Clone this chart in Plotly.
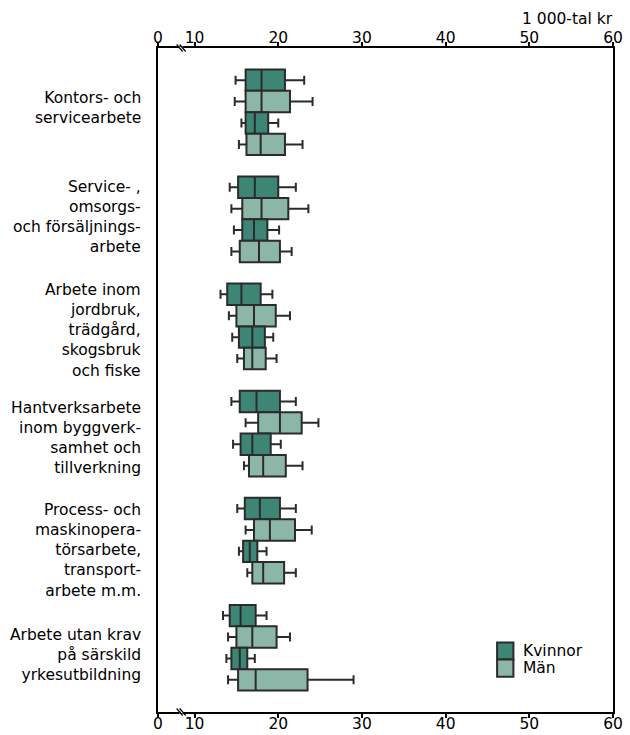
import plotly.graph_objects as go

# ---------------- data (1 000-tal kr) ----------------
categories = [
    "Kontors- och<br>servicearbete",
    "Service- ,<br>omsorgs-<br>och försäljnings-<br>arbete",
    "Arbete inom<br>jordbruk,<br>trädgård,<br>skogsbruk<br>och fiske",
    "Hantverksarbete<br>inom byggverk-<br>samhet och<br>tillverkning",
    "Process- och<br>maskinopera-<br>törsarbete,<br>transport-<br>arbete m.m.",
    "Arbete utan krav<br>på särskild<br>yrkesutbildning",
]

# series 1: Kvinnor (first dark box)
kvinnor1_low = [14.9, 14.2, 13.1, 14.4, 15.1, 13.4]
kvinnor1_q1 = [16.1, 15.2, 13.9, 15.4, 16.0, 14.2]
kvinnor1_med = [18.0, 17.2, 15.6, 17.4, 17.8, 15.5]
kvinnor1_q3 = [20.8, 20.0, 17.9, 20.2, 20.2, 17.3]
kvinnor1_high = [23.1, 22.1, 19.3, 22.1, 22.1, 18.6]

# series 2: Män (first light box)
man1_low = [14.8, 14.4, 14.1, 16.1, 16.1, 14.0]
man1_q1 = [16.1, 15.7, 15.0, 17.6, 17.1, 15.0]
man1_med = [18.0, 18.0, 17.1, 20.2, 19.0, 16.9]
man1_q3 = [21.4, 21.2, 19.7, 22.8, 22.0, 19.8]
man1_high = [24.1, 23.6, 21.4, 24.8, 24.0, 21.4]

# series 3: Kvinnor (second dark box)
kvinnor2_low = [15.6, 14.7, 14.5, 14.6, 15.3, 13.8]
kvinnor2_q1 = [16.1, 15.7, 15.3, 15.5, 15.8, 14.4]
kvinnor2_med = [17.2, 17.1, 16.9, 16.9, 16.6, 15.4]
kvinnor2_q3 = [18.8, 18.7, 18.4, 19.1, 17.5, 16.3]
kvinnor2_high = [20.0, 20.1, 19.4, 20.3, 18.6, 17.2]

# series 4: Män (second light box)
man2_low = [15.3, 14.4, 15.1, 15.9, 16.3, 14.0]
man2_q1 = [16.2, 15.4, 15.9, 16.5, 16.9, 15.2]
man2_med = [17.9, 17.7, 16.9, 18.2, 18.2, 17.3]
man2_q3 = [20.8, 20.2, 18.5, 20.9, 20.7, 23.5]
man2_high = [22.9, 21.6, 19.8, 22.9, 22.1, 29.0]

tick_values = [10, 20, 30, 40, 50, 60]
tick_labels = ["10", "20", "30", "40", "50", "60"]
zero_label = "0"
unit_label = "1 000-tal kr"
legend_names = ["Kvinnor", "Män"]

# ---------------- styling ----------------
DARK = "#3d8675"
LIGHT = "#8cb6a8"
EDGE = "#2b2b2b"
FONT = "DejaVu Sans"
ZERO_POS = 5.63          # axis position where the broken axis shows "0"
BREAK_POS = 8.4
n_groups = len(categories)

series = [
    (kvinnor1_low, kvinnor1_q1, kvinnor1_med, kvinnor1_q3, kvinnor1_high, DARK),
    (man1_low, man1_q1, man1_med, man1_q3, man1_high, LIGHT),
    (kvinnor2_low, kvinnor2_q1, kvinnor2_med, kvinnor2_q3, kvinnor2_high, DARK),
    (man2_low, man2_q1, man2_med, man2_q3, man2_high, LIGHT),
]

fig = go.Figure()
for i, (lo, q1, md, q3, hi, col) in enumerate(series):
    pos = [1.5 + 5 * g + i for g in range(n_groups)]
    fig.add_trace(go.Box(
        y=pos, q1=q1, median=md, q3=q3, lowerfence=lo, upperfence=hi,
        orientation="h", width=1.0, whiskerwidth=0.42,
        fillcolor=col, line=dict(color=EDGE, width=2),
        boxpoints=False, showlegend=False, hoverinfo="skip",
    ))

# invisible trace to activate the top axis
fig.add_trace(go.Scatter(x=[30], y=[1], xaxis="x2", mode="markers",
                         marker=dict(opacity=0), showlegend=False, hoverinfo="skip"))

axis_common = dict(
    range=[ZERO_POS, 60],
    tickvals=[ZERO_POS] + tick_values,
    ticktext=[zero_label] + tick_labels,
    showgrid=False, zeroline=False,
    showline=True, linecolor="black", linewidth=2,
    ticks="outside", ticklen=4, tickwidth=1.5, tickcolor="black",
    tickfont=dict(family=FONT, size=15.5, color="black"),
    automargin=False,
)

label_y = [2.8, 7.88, 13.18, 18.19, 23.47, 28.35]
annotations = []
for txt, yy in zip(categories, label_y):
    annotations.append(dict(
        x=0, xref="paper", y=yy, yref="y", text=txt, showarrow=False,
        xanchor="right", yanchor="middle", align="right", xshift=-15,
        font=dict(family=FONT, size=15.5, color="black"),
    ))
annotations.append(dict(
    x=1, xref="paper", y=1, yref="paper", text=unit_label, showarrow=False,
    xanchor="right", yanchor="bottom", yshift=18, xshift=2,
    font=dict(family=FONT, size=15.5, color="black"),
))

# legend (drawn manually)
shapes = []
leg_x0, leg_x1 = 46.15, 48.1
for k, (name, col) in enumerate(zip(legend_names, [DARK, LIGHT])):
    y0 = 27.75 + 0.8 * k
    shapes.append(dict(type="rect", xref="x", yref="y", x0=leg_x0, x1=leg_x1,
                       y0=y0, y1=y0 + 0.8, fillcolor=col,
                       line=dict(color=EDGE, width=2)))
    annotations.append(dict(
        x=49.0, xref="x", y=y0 + 0.4, yref="y", text=name, showarrow=False,
        xanchor="left", yanchor="middle",
        font=dict(family=FONT, size=15.5, color="black"),
    ))

# axis break marks (top and bottom)
for yp in (0, 1):
    shapes.append(dict(type="line", xref="x", yref="paper",
                       xsizemode="pixel", xanchor=BREAK_POS,
                       ysizemode="pixel", yanchor=yp,
                       x0=-2, x1=2, y0=0, y1=0,
                       line=dict(color="white", width=3)))
    for dx in (-1.5, 1.5):
        shapes.append(dict(type="line", xref="x", yref="paper",
                           xsizemode="pixel", xanchor=BREAK_POS,
                           ysizemode="pixel", yanchor=yp,
                           x0=dx - 3, x1=dx + 3, y0=3.5, y1=-3.5,
                           line=dict(color="black", width=1.2)))

fig.update_layout(
    width=630, height=735,
    margin=dict(l=158, r=17, t=48, b=23),
    paper_bgcolor="white", plot_bgcolor="white",
    boxmode="overlay",
    xaxis=dict(side="bottom", ticklabelstandoff=-8, **axis_common),
    xaxis2=dict(side="top", overlaying="x", matches="x", anchor="y",
                ticklabelstandoff=-7, **axis_common),
    yaxis=dict(range=[31, 0], showticklabels=False, showgrid=False, zeroline=False,
               showline=True, mirror=True, linecolor="black", linewidth=1.5,
               ticks="", automargin=False),
    annotations=annotations,
    shapes=shapes,
    showlegend=False,
)

fig.write_html(
    "out.html",
    config={"displayModeBar": False},
    post_script="document.body.style.margin='0';document.body.style.overflow='hidden';",
)
